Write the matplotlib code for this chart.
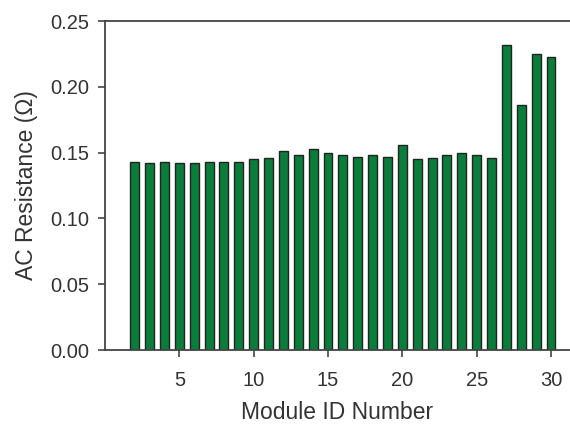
import numpy as np
import matplotlib.pyplot as plt
from matplotlib.ticker import FormatStrFormatter

module_ids = list(range(2, 31))
resistance = [0.143, 0.142, 0.143, 0.142, 0.142, 0.143, 0.143, 0.143, 0.145,
              0.146, 0.151, 0.148, 0.153, 0.150, 0.148, 0.147, 0.148, 0.147,
              0.156, 0.145, 0.146, 0.148, 0.150, 0.148, 0.146, 0.232, 0.186,
              0.225, 0.223]

plt.rcParams['font.family'] = ['Liberation Sans', 'DejaVu Sans']

fig = plt.figure(figsize=(5.7, 4.26), dpi=100)
ax = fig.add_axes([0.1842, 0.1784, 0.8158, 0.7723])

ax.bar(module_ids, resistance, width=0.6, color='#0b7d3b',
       edgecolor='#222222', linewidth=1.0)

ax.set_xlim(0, 31.28)
ax.set_ylim(0, 0.25)
ax.set_xticks(range(5, 31, 5))
ax.set_yticks(np.arange(0, 0.251, 0.05))
ax.yaxis.set_major_formatter(FormatStrFormatter('%.2f'))

for side in ['left', 'top', 'bottom']:
    ax.spines[side].set_color('#444444')
    ax.spines[side].set_linewidth(1.3)
ax.spines['right'].set_visible(False)

ax.tick_params(direction='out', length=5, width=1.2, color='#444444',
               labelsize=14.5, labelcolor='#333333')
ax.tick_params(axis='x', pad=10)
ax.tick_params(axis='y', pad=6.5)

ax.set_xlabel('Module ID Number', fontsize=16.5, color='#333333', labelpad=8)
ax.set_ylabel('AC Resistance (Ω)', fontsize=16.5, color='#333333', labelpad=9)

fig.savefig('out.png', dpi=100)
